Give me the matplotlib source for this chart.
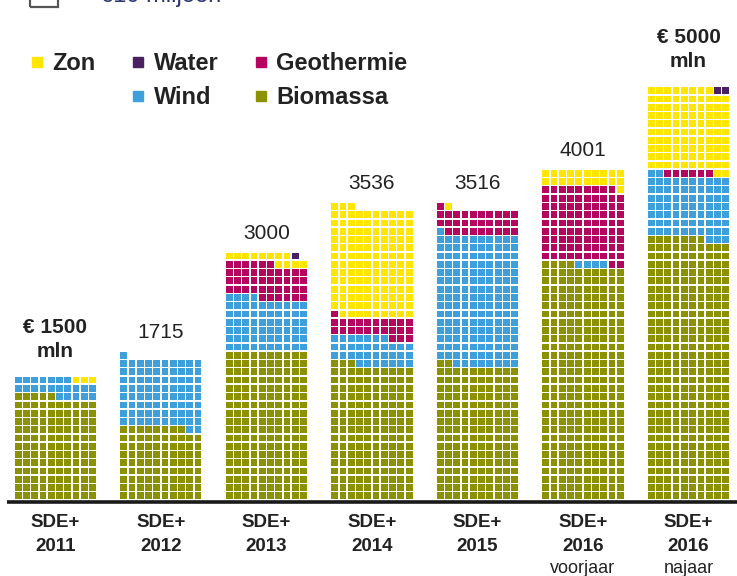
import matplotlib
matplotlib.use("Agg")
import matplotlib.pyplot as plt
from matplotlib.patches import Rectangle
from matplotlib.lines import Line2D

# one square = EUR 10 mln, counts
categories = ["Biomassa", "Wind", "Geothermie", "Zon", "Water"]
colors = {"Biomassa": "#8c9100", "Wind": "#3d9fdb", "Geothermie": "#b5065f",
          "Zon": "#ffe500", "Water": "#4b2163"}

rounds = ["2011", "2012", "2013", "2014", "2015", "2016", "2016"]
round_notes = ["", "", "", "", "", "voorjaar", "najaar"]
budget_labels = ["€ 1500\nmln", "1715", "3000", "3536", "3516", "4001", "€ 5000\nmln"]

biomassa = [125, 88, 180, 163, 162, 284, 317]
wind = [22, 83, 64, 34, 159, 4, 75]
geothermie = [0, 0, 42, 24, 30, 91, 6]
zon = [3, 0, 12, 132, 1, 21, 100]
water = [0, 0, 1, 0, 0, 0, 2]

series = [biomassa, wind, geothermie, zon, water]

plt.rcParams['font.family'] = ['Liberation Sans', 'DejaVu Sans']
narrow = ['Liberation Sans Narrow', 'Liberation Sans', 'DejaVu Sans']
txt = '#222222'

W, H = 737, 576
s = 8.27          # pixels per square
x_off, base = 14, 500
ncols = 10
step = 12.76      # distance between bars, in squares

fig = plt.figure(figsize=(W / 100, H / 100), dpi=100)
ax = fig.add_axes([0, 0, 1, 1])
ax.set_xlim(-x_off / s, (W - x_off) / s)
ax.set_ylim(-(H - base) / s, base / s)
ax.axis('off')

for i in range(len(rounds)):
    seq = []
    for cat, counts in zip(categories, series):
        seq += [colors[cat]] * counts[i]
    x0 = i * step
    for k, c in enumerate(seq):
        row, col = divmod(k, ncols)
        ax.add_patch(Rectangle((x0 + col + 0.09, row + 0.09), 0.82, 0.82,
                               facecolor=c, edgecolor='none'))
    nrows = -(-len(seq) // ncols)
    big = budget_labels[i].startswith("€")
    ax.text(x0 + ncols / 2, nrows + (2.3 if big else 1.6), budget_labels[i],
            ha='center', va='baseline', fontsize=15, color=txt,
            fontweight='bold' if big else 'normal', linespacing=1.35)
    ax.text(x0 + ncols / 2, -2.7, "SDE+", ha='center', va='center',
            fontsize=13.5, fontweight='bold', family=narrow, color=txt)
    ax.text(x0 + ncols / 2, -5.6, rounds[i], ha='center', va='center',
            fontsize=13.5, fontweight='bold', family=narrow, color=txt)
    if round_notes[i]:
        ax.text(x0 + ncols / 2, -8.3, round_notes[i], ha='center', va='center',
                fontsize=13, family=narrow, color=txt)

# baseline
ax.plot([-7 / s, (W - x_off) / s], [-0.2, -0.2], color='#1a1a1a', lw=2.6,
        solid_capstyle='butt')

# size key at the top, partly cut off
ax.add_patch(Rectangle(((30 - x_off) / s, (base - 7) / s), 28 / s, 28 / s,
                       facecolor='none', edgecolor='#555555', lw=1.6))
ax.text((73 - x_off) / s, (base - 2) / s, "=  €10 miljoen", ha='left',
        va='baseline', fontsize=17, color='#2b3570')

# legend
order = ["Zon", None, "Water", "Wind", "Geothermie", "Biomassa"]
handles, labels = [], []
for name in order:
    if name is None:
        handles.append(Line2D([], [], linestyle='none'))
        labels.append("")
    else:
        handles.append(Line2D([], [], linestyle='none', marker='s',
                              markersize=7, color=colors[name]))
        labels.append(name)
leg = ax.legend(handles, labels, ncol=3, loc='upper left',
                bbox_to_anchor=(0.041, 0.91), frameon=False,
                prop={'weight': 'bold', 'size': 17}, handlelength=0.6,
                handletextpad=0.35, columnspacing=1.5, labelspacing=0.47,
                borderpad=0, borderaxespad=0)
for t in leg.get_texts():
    t.set_color(txt)

fig.savefig("out.png", dpi=100)
